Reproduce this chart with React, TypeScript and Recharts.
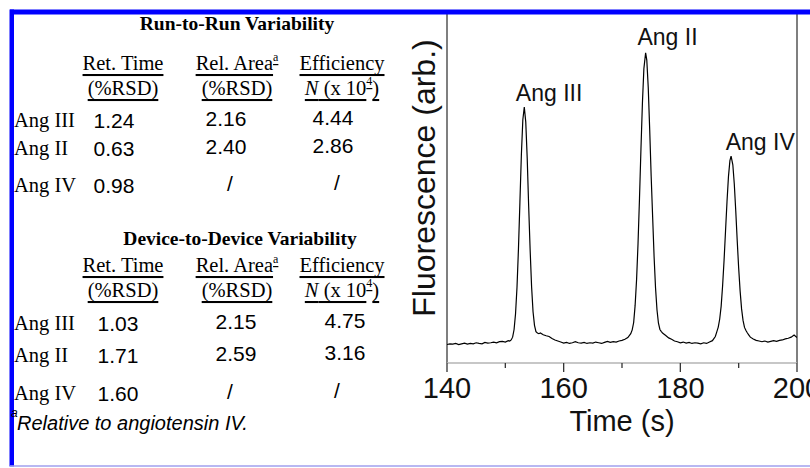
import { ComposedChart, Line, Scatter, XAxis, YAxis, ReferenceLine } from "recharts";

// electropherogram trace: [time (s), fluorescence (arb.)]
const trace: [number, number][] = [
  [140, 5.3], [140.5, 5.5], [141, 5.4], [141.5, 5.6], [142, 5.3], [142.5, 5.5], [143, 5.7], [143.5, 5.4],
  [144, 5.6], [144.5, 5.5], [145, 5.8], [145.5, 5.6], [146, 5.5], [146.5, 5.9], [147, 5.7], [147.5, 5.8],
  [148, 6.0], [148.5, 5.8], [149, 6.1], [149.5, 6.2], [150, 6.0], [150.5, 6.4], [150.75, 6.3], [151, 6.6],
  [151.25, 7.4], [151.5, 9.6], [151.75, 14.1], [152, 21.7], [152.25, 32.7], [152.5, 46.1], [152.75, 59.7],
  [153, 69.7], [153.25, 73.3], [153.5, 69.1], [153.75, 58.7], [154, 44.9], [154.25, 32.5], [154.5, 21.9],
  [154.75, 14.7], [155, 10.8], [155.25, 9.0], [155.5, 8.6], [155.75, 8.4], [156, 8.6], [156.5, 8.1],
  [157, 7.8], [157.5, 7.6], [158, 7.0], [158.5, 6.6], [159, 6.3], [159.5, 6.0], [160, 5.7], [160.5, 5.9],
  [161, 5.6], [161.5, 5.8], [162, 6.1], [162.5, 5.8], [163, 5.7], [163.5, 5.9], [164, 5.6], [164.5, 5.8],
  [165, 5.7], [165.5, 6.0], [166, 5.8], [166.5, 5.6], [167, 5.9], [167.5, 6.2], [168, 5.9], [168.5, 6.1],
  [169, 6.0], [169.5, 6.3], [170, 6.5], [170.5, 6.8], [171, 7.3], [171.5, 8.4], [171.75, 9.5], [172, 11.6],
  [172.25, 16.5], [172.5, 23.9], [172.75, 34.3], [173, 47.2], [173.25, 61.3], [173.5, 74.4], [173.75, 84.3],
  [174.05, 88.9], [174.25, 86.8], [174.5, 78.9], [174.75, 66.8], [175, 53.5], [175.25, 42.0], [175.5, 30.5],
  [175.75, 21.5], [176, 15.2], [176.25, 11.4], [176.5, 9.6], [176.75, 9.0], [177, 8.5], [177.5, 7.9],
  [178, 7.2], [178.5, 6.8], [179, 6.3], [179.5, 6.1], [180, 5.8], [180.5, 6.0], [181, 5.7], [181.5, 5.9],
  [182, 5.6], [182.5, 5.8], [183, 5.7], [183.5, 5.5], [184, 5.8], [184.5, 5.6], [185, 6.0], [185.5, 6.4],
  [186, 7.6], [186.25, 8.9], [186.5, 10.3], [186.75, 12.6], [187, 16.3], [187.25, 22.2], [187.5, 29.5],
  [187.75, 37.9], [188, 46.2], [188.25, 53.4], [188.5, 58.0], [188.7, 59.3], [189, 56.8], [189.25, 51.3],
  [189.5, 43.6], [189.75, 35.1], [190, 27.2], [190.25, 20.6], [190.5, 15.5], [190.75, 12.2], [191, 10.2],
  [191.25, 9.3], [191.5, 8.6], [191.75, 8.0], [192, 7.4], [192.5, 6.9], [193, 6.5], [193.5, 6.3],
  [194, 6.1], [194.5, 6.3], [195, 6.0], [195.5, 6.2], [196, 6.4], [196.5, 6.2], [197, 6.5], [197.5, 6.6],
  [198, 6.9], [198.5, 7.1], [199, 7.4], [199.5, 8.0], [200, 7.3],
];

const peakNames = ["Ang III", "Ang II", "Ang IV"];
const peakLabelTime = [157.5, 177.8, 193.7];
const peakLabelLevel = [77.4, 93.4, 63.3];

const timeTicks = [140, 150, 160, 170, 180, 190, 200];
const labelledTicks = [140, 160, 180, 200];

// table values
const analytes = ["Ang III", "Ang II", "Ang IV"];
const runRetTime = ["1.24", "0.63", "0.98"];
const runRelArea = ["2.16", "2.40", "/"];
const runEfficiency = ["4.44", "2.86", "/"];
const devRetTime = ["1.03", "1.71", "1.60"];
const devRelArea = ["2.15", "2.59", "/"];
const devEfficiency = ["4.75", "3.16", "/"];

const serif = "'Liberation Serif', 'Times New Roman', serif";
const sans = "'Liberation Sans', Arial, sans-serif";

const data = trace.map(([t, v]) => ({ t, v }));
const labelData = peakNames.map((name, i) => ({ name, t: peakLabelTime[i], v: peakLabelLevel[i] }));

function TimeTick(props: any) {
  const { x, y, payload } = props;
  const major = labelledTicks.includes(payload.value);
  return (
    <g>
      <line x1={x} x2={x} y1={y} y2={y + (major ? 9 : 5)} stroke="#333" strokeWidth={1.3} />
      {major && (
        <text x={x} y={y + 25} textAnchor="middle" dominantBaseline="central"
          fontFamily={sans} fontSize={29} fill="#111">
          {payload.value}
        </text>
      )}
    </g>
  );
}

function TimeLabel(props: any) {
  const { viewBox } = props;
  return (
    <text x={viewBox.x + viewBox.width / 2} y={viewBox.y + 58} textAnchor="middle" dominantBaseline="central"
      fontFamily={sans} fontSize={29} fill="#111">
      Time (s)
    </text>
  );
}

function PeakLabel(props: any) {
  const { cx, cy, payload } = props;
  return (
    <text x={cx} y={cy} textAnchor="middle" dominantBaseline="central"
      fontFamily={sans} fontSize={23} fill="#111">
      {payload.name}
    </text>
  );
}

function Table({ title, titleY, top, ret, area, eff, cols }: any) {
  const headY = [top, top + 25];
  const rowY = cols.rows;
  return (
    <g>
      <text x={cols.title} y={titleY} textAnchor="middle" dominantBaseline="central"
        fontFamily={serif} fontWeight="bold" fontSize={19.5}>{title}</text>
      <g fontFamily={serif} fontSize={20.5} textAnchor="middle" style={{ textDecoration: "underline" }}>
        <text x={cols.h[0]} y={headY[0]} dominantBaseline="central">Ret. Time</text>
        <text x={cols.h[1]} y={headY[0]} dominantBaseline="central">
          Rel. Area<tspan fontSize={12} dy={-6}>a</tspan>
        </text>
        <text x={cols.h[2]} y={headY[0]} dominantBaseline="central">Efficiency</text>
        <text x={cols.h[0]} y={headY[1]} dominantBaseline="central">(%RSD)</text>
        <text x={cols.h[1]} y={headY[1]} dominantBaseline="central">(%RSD)</text>
        <text x={cols.h[2]} y={headY[1]} dominantBaseline="central">
          <tspan fontStyle="italic">N</tspan> (x 10<tspan fontSize={12} dy={-7}>4</tspan><tspan dy={7}>)</tspan>
        </text>
      </g>
      {analytes.map((a: string, i: number) => (
        <g key={a}>
          <text x={14} y={rowY[i]} dominantBaseline="central" fontFamily={serif} fontSize={20.5}>{a}</text>
          <text x={cols.n[0]} y={rowY[i]} textAnchor="middle" dominantBaseline="central" fontFamily={sans} fontSize={21}>{ret[i]}</text>
          <text x={area[i] === "/" ? 230 : cols.n[1]} y={rowY[i] - 2} textAnchor="middle" dominantBaseline="central" fontFamily={sans} fontSize={21}>{area[i]}</text>
          <text x={eff[i] === "/" ? 337 : cols.n[2]} y={rowY[i] - 3} textAnchor="middle" dominantBaseline="central" fontFamily={sans} fontSize={21}>{eff[i]}</text>
        </g>
      ))}
    </g>
  );
}

export default function App() {
  return (
    <div style={{ position: "absolute", left: 0, top: 0, width: 810, height: 468, background: "#fff", overflow: "hidden" }}>
      <div style={{ position: "absolute", left: 0, top: 0 }}>
        <ComposedChart width={810} height={468} data={data}
          margin={{ top: 14, right: 13, bottom: 45, left: 447 }}>
          <XAxis dataKey="t" type="number" domain={[140, 200]} ticks={timeTicks}
            allowDataOverflow interval={0} height={60} tickSize={0} tickMargin={0}
            axisLine={{ stroke: "#b5b5b5", strokeWidth: 1.3 }} tickLine={false}
            tick={(p: any) => <TimeTick {...p} />}
            label={(p: any) => <TimeLabel {...p} />} />
          <YAxis type="number" domain={[0, 100]} hide />
          <ReferenceLine x={140} stroke="#555" strokeWidth={1.5} />
          <ReferenceLine x={200} stroke="#555" strokeWidth={1.5} />
          <Line dataKey="v" type="linear" stroke="#000" strokeWidth={1.2} dot={false} isAnimationActive={false} />
          <Scatter data={labelData} dataKey="v" shape={(p: any) => <PeakLabel {...p} />} isAnimationActive={false} />
        </ComposedChart>
      </div>
      <svg width={810} height={468} style={{ position: "absolute", left: 0, top: 0, pointerEvents: "none" }}>
        <rect x={10} y={9.5} width={800} height={5} fill="#0000ff" />
        <rect x={9.5} y={9.5} width={4.5} height={457} fill="#0000ff" />
        <line x1={10} x2={810} y1={466} y2={466} stroke="#a0a0ee" strokeWidth={1.5} />
        <text transform="translate(424,178) rotate(-90)" textAnchor="middle" dominantBaseline="central"
          fontFamily={sans} fontSize={32} fill="#111">Fluorescence (arb.)</text>
        <Table title="Run-to-Run Variability" titleY={23} top={63}
          ret={runRetTime} area={runRelArea} eff={runEfficiency}
          cols={{ title: 237, h: [123, 237, 342], n: [114, 226, 333], rows: [120, 148, 185] }} />
        <Table title="Device-to-Device Variability" titleY={238} top={265}
          ret={devRetTime} area={devRelArea} eff={devEfficiency}
          cols={{ title: 240, h: [123, 237, 342], n: [118, 236, 345], rows: [323, 355, 393] }} />
        <text x={11} y={417} fontFamily={sans} fontSize={12} fontStyle="italic">a</text>
        <text x={17} y={423} dominantBaseline="central" fontFamily={sans} fontSize={20} fontStyle="italic">Relative to angiotensin IV.</text>
      </svg>
    </div>
  );
}
